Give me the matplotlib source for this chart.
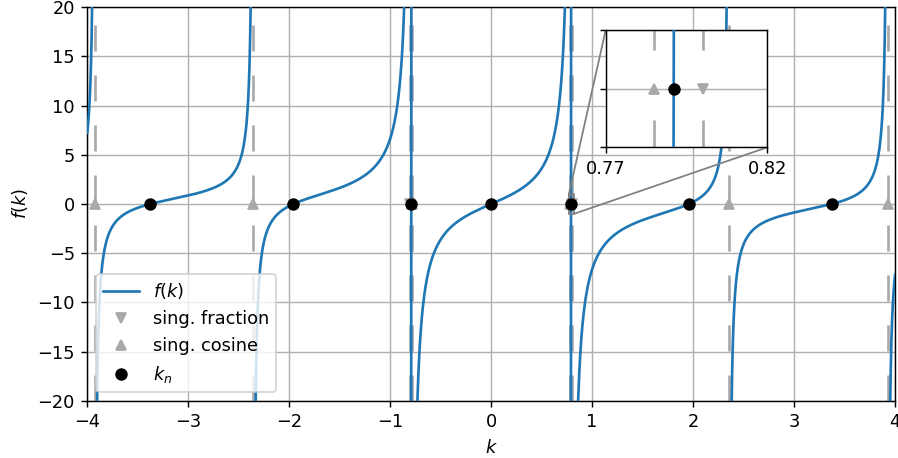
import numpy as np
import matplotlib
matplotlib.use("Agg")
import matplotlib.pyplot as plt

# ---- chart content ----
k_min, k_max = -4.0, 4.0
y_min, y_max = -20.0, 20.0
kappa = 0.8          # position of the singularity of the fraction term
freq = 2.0           # tan(freq * k) -> singularities of the cosine
k_n = [-3.375, -1.959, -0.791, 0.0, 0.791, 1.959, 3.375]          # roots
sing_fraction = [-0.8, 0.8]
sing_cosine = [-3.927, -2.356, -0.785, 0.785, 2.356, 3.927]
x_ticks = [-4, -3, -2, -1, 0, 1, 2, 3, 4]
y_ticks = [-20, -15, -10, -5, 0, 5, 10, 15, 20]
inset_xlim = (0.77, 0.82)
inset_ylim = (-1.0, 1.0)
inset_xticks = [0.77, 0.82]
inset_yticks = [-1.0, 0.0, 1.0]

# ---- curve f(k) = tan(2k) - 2*kappa*k / (k^2 - kappa^2) ----
k = np.linspace(k_min, k_max, 400001)
with np.errstate(divide="ignore", invalid="ignore"):
    f = np.tan(freq * k) - 2 * kappa * k / (k ** 2 - kappa ** 2)
f[np.abs(f) > 60] = np.nan

GRAY = "darkgray"
BLUE = "tab:blue"
plt.rcParams["lines.scale_dashes"] = False

DPI = 128
PT = 72.0 / DPI   # points per pixel
fig = plt.figure(figsize=(898 / DPI, 458 / DPI), dpi=DPI)
ax = fig.add_axes([0.0972, 0.1245, 0.8995, 0.8602])


def draw(a, dashes):
    a.plot(k, f, color=BLUE, lw=1.5, label="$f(k)$", zorder=3)
    for s in sing_fraction + sing_cosine:
        a.axvline(s, color=GRAY, lw=1.5, linestyle=(0, dashes), zorder=2)
    a.plot(sing_fraction, np.zeros(len(sing_fraction)), "v", color=GRAY,
           ls="none", label="sing. fraction", zorder=4)
    a.plot(sing_cosine, np.zeros(len(sing_cosine)), "^", color=GRAY,
           ls="none", label="sing. cosine", zorder=4)
    a.plot(k_n, np.zeros(len(k_n)), "o", color="black", ls="none",
           label="$k_n$", zorder=5)
    a.grid(True, color="#b0b0b0", lw=0.8, zorder=0)


draw(ax, (26 * PT, 24 * PT))
ax.set_xlim(k_min, k_max)
ax.set_ylim(y_min, y_max)
ax.set_xticks(x_ticks)
ax.set_yticks(y_ticks)
ax.set_xlabel("$k$")
ax.set_ylabel("$f(k)$")
ax.legend(loc="lower left", framealpha=0.8)

axins = fig.add_axes([0.6745, 0.6784, 0.18, 0.2561])
draw(axins, (27 * PT, 70 * PT))
axins.set_xlim(*inset_xlim)
axins.set_ylim(*inset_ylim)
axins.set_xticks(inset_xticks)
axins.set_xticklabels([f"{v:.2f}" for v in inset_xticks])
axins.set_yticks(inset_yticks)
axins.set_yticklabels([])
axins.set_facecolor("white")

ax.indicate_inset_zoom(axins, edgecolor="gray", alpha=1.0, lw=1)

fig.savefig("out.png", dpi=DPI)
